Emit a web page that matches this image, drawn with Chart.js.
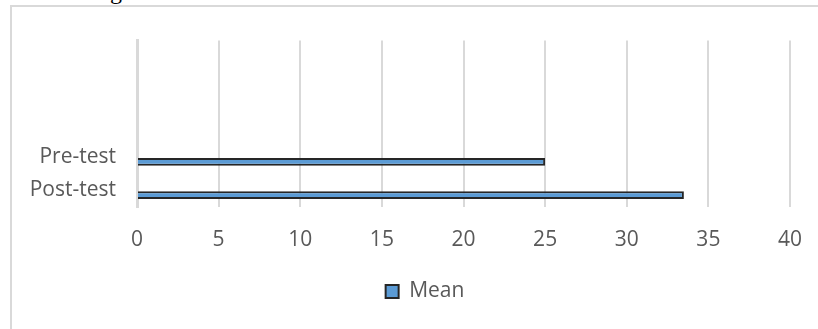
<!DOCTYPE html>
<html>
<head>
<meta charset="utf-8">
<script src="https://cdn.jsdelivr.net/npm/chart.js@4/dist/chart.umd.min.js"></script>
<style>
  html, body { margin: 0; padding: 0; background: #fff; overflow: hidden; }
  body { width: 818px; height: 329px; position: relative; }
  #frame { position: absolute; left: 10px; top: 5px; width: 828px; height: 400px;
           border: 2px solid #d9d9d9; box-sizing: border-box; }
  #wrap { position: absolute; left: 12px; top: 7px; width: 826px; height: 340px; }
  #caption { position: absolute; left: 110px; top: -21px; font: 24px/24px "Liberation Serif", serif; color: #000; }
</style>
</head>
<body>
<div id="caption">g</div>
<div id="frame"></div>
<div id="wrap"><canvas id="c"></canvas></div>
<script>
// Category rows, top to bottom (the upper rows are left empty)
const categories = ['', '', '', 'Pre-test', 'Post-test'];
// Mean score per row
const meanValues = [null, null, null, 25, 33.5];
// Second, empty series of the cluster (keeps the bar offset within each row)
const emptySeries = [null, null, null, null, null];
const seriesName = 'Mean';
// Value axis ticks
const xMin = 0, xMax = 40, xStep = 5;

const textColor = '#595959';
const font = { family: '"Open Sans", sans-serif', size: 21 };

new Chart(document.getElementById('c'), {
  type: 'bar',
  data: {
    labels: categories,
    datasets: [
      { label: '', data: emptySeries, backgroundColor: 'rgba(0,0,0,0)', borderWidth: 0 },
      { label: seriesName, data: meanValues, backgroundColor: '#5b9bd5',
        borderColor: '#262626', borderWidth: 2 }
    ]
  },
  options: {
    indexAxis: 'y',
    responsive: true,
    maintainAspectRatio: false,
    animation: false,
    categoryPercentage: 0.58,
    barPercentage: 0.8,
    layout: { padding: { left: 0, right: 0, top: 25, bottom: 35 } },
    scales: {
      x: {
        min: xMin, max: xMax,
        ticks: { stepSize: xStep, color: textColor, font: font, padding: 20 },
        grid: { color: '#d9d9d9', lineWidth: 2, drawTicks: false },
        border: { display: false },
        afterFit: s => { s.height = 64; }
      },
      y: {
        ticks: { color: textColor, font: font, padding: 21 },
        grid: { display: false, drawTicks: false },
        border: { display: true, color: '#d9d9d9', width: 3 },
        afterFit: s => { s.width = 125; }
      },
      // blank right-hand margin, so the legend sits centred in the frame
      yRight: {
        type: 'linear',
        position: 'right',
        ticks: { display: false },
        grid: { display: false, drawTicks: false },
        border: { display: false },
        afterFit: s => { s.width = 48; }
      }
    },
    plugins: {
      legend: {
        position: 'bottom',
        labels: {
          color: textColor, font: font, boxWidth: 13, boxHeight: 13,
          filter: item => item.text === seriesName
        }
      },
      tooltip: { enabled: false }
    }
  }
});
</script>
</body>
</html>
